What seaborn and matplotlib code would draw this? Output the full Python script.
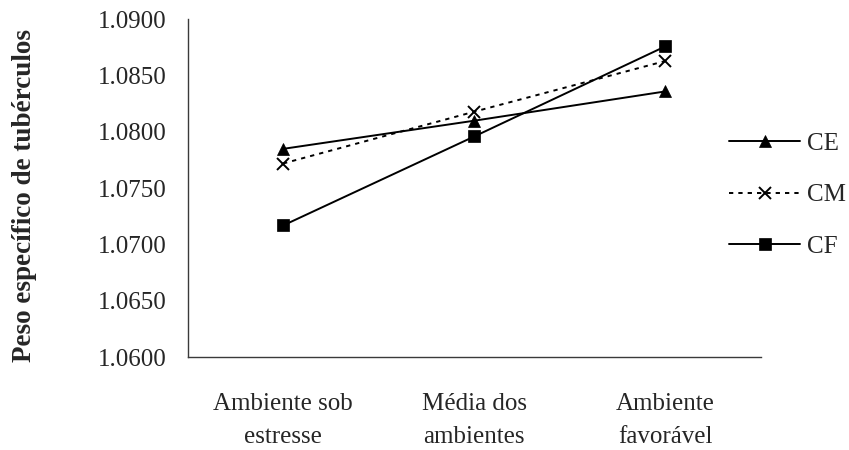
import numpy as np
import pandas as pd
import matplotlib
matplotlib.use("Agg")
import matplotlib.pyplot as plt
from matplotlib.ticker import FixedLocator, FormatStrFormatter
import seaborn as sns

# Specific gravity of tubers by environment for three selection criteria
categories = ["Ambiente sob\nestresse", "Média dos\nambientes", "Ambiente\nfavorável"]
ce = [1.0785, 1.0810, 1.0836]
cm = [1.0772, 1.0818, 1.0863]
cf = [1.0717, 1.0796, 1.0876]
series_names = ["CE", "CM", "CF"]
y_ticks = [1.0600, 1.0650, 1.0700, 1.0750, 1.0800, 1.0850, 1.0900]

sns.set_style("white")
plt.rcParams["font.family"] = ["Liberation Serif", "DejaVu Serif"]
plt.rcParams["font.size"] = 18

pos = np.arange(len(categories))
df = pd.DataFrame({
    "pos": np.tile(pos, 3),
    "valor": ce + cm + cf,
    "serie": np.repeat(series_names, len(categories)),
})

fig = plt.figure(figsize=(8.49, 4.5), dpi=100)
W, H = 849, 450
left, right, top, bottom = 187.5, 761, 19.3, 357.3
ax = fig.add_axes([left / W, 1 - bottom / H, (right - left) / W, (bottom - top) / H])

styles = {
    "CE": dict(marker="^", linestyle="-", markersize=9, mew=0.5),
    "CM": dict(marker="x", linestyle=(0, (2.2, 2.6)), markersize=8.5, mew=1.4),
    "CF": dict(marker="s", linestyle="-", markersize=8.5, mew=0.5),
}
for name in series_names:
    sub = df[df["serie"] == name]
    st = styles[name]
    sns.lineplot(data=sub, x="pos", y="valor", ax=ax, color="black",
                 linewidth=1.4, label=name, marker=st["marker"],
                 linestyle=st["linestyle"], markersize=st["markersize"],
                 markeredgewidth=st["mew"], markeredgecolor="black",
                 markerfacecolor="black", estimator=None, sort=False)

ax.set_xlim(-0.5, len(categories) - 0.5)
ax.set_ylim(y_ticks[0], y_ticks[-1])
ax.yaxis.set_major_locator(FixedLocator(y_ticks))
ax.yaxis.set_major_formatter(FormatStrFormatter("%.4f"))

# Category labels sit between the boundary ticks
ax.xaxis.set_major_locator(FixedLocator(np.arange(-0.5, len(categories), 1.0)))
ax.xaxis.set_minor_locator(FixedLocator(pos))
ax.set_xticklabels([], minor=False)
ax.set_xticklabels(categories, minor=True, linespacing=1.6)
ax.tick_params(axis="x", which="major", length=6.5, width=1.0, color="#3a3a3a")
ax.tick_params(axis="x", which="minor", length=0, pad=26, labelsize=18)
ax.tick_params(axis="y", which="major", length=6.5, width=1.0, color="#3a3a3a",
               pad=8.5, labelsize=18)

for side in ["top", "right"]:
    ax.spines[side].set_visible(False)
for side in ["left", "bottom"]:
    ax.spines[side].set_color("#3a3a3a")
    ax.spines[side].set_linewidth(1.0)

ax.set_xlabel("")
ax.set_ylabel("")
fig.text(25 / W, 1 - 196 / H, "Peso específico de tubérculos", rotation=90,
         ha="center", va="center", fontsize=19.5, fontweight="bold")

leg = ax.legend(loc="upper left", bbox_to_anchor=(729 / W, 1 - 132.5 / H),
                bbox_transform=fig.transFigure, frameon=False, fontsize=18,
                handlelength=2.84, handletextpad=0.28, labelspacing=1.15,
                borderpad=0, borderaxespad=0)

fig.savefig("out.png", dpi=100)
